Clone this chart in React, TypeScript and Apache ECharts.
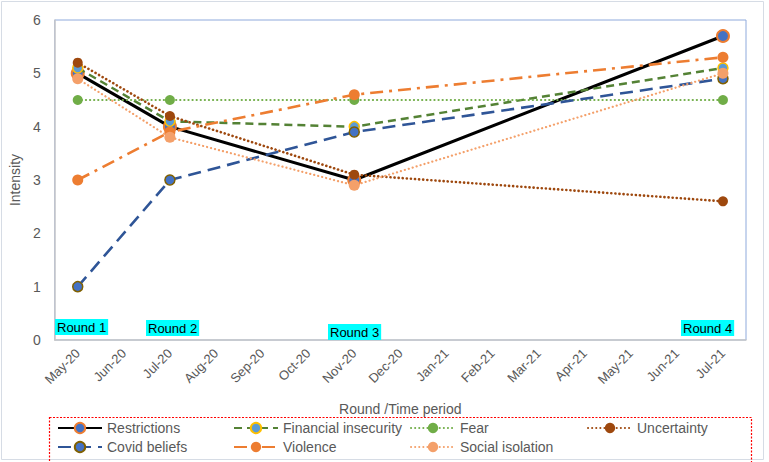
import React, { useEffect, useRef } from "react";
import * as echarts from "echarts";

const months = [
  "May-20", "Jun-20", "Jul-20", "Aug-20", "Sep-20", "Oct-20", "Nov-20", "Dec-20",
  "Jan-21", "Feb-21", "Mar-21", "Apr-21", "May-21", "Jun-21", "Jul-21",
];
const roundMonths = ["May-20", "Jul-20", "Nov-20", "Jul-21"];
const roundLabels = ["Round 1", "Round 2", "Round 3", "Round 4"];
const yTicks = [0, 1, 2, 3, 4, 5, 6];

const restrictions = [5.0, 4.0, 3.0, 5.7];
const financialInsecurity = [5.1, 4.1, 4.0, 5.1];
const fear = [4.5, 4.5, 4.5, 4.5];
const uncertainty = [5.2, 4.2, 3.1, 2.6];
const covidBeliefs = [1.0, 3.0, 3.9, 4.9];
const violence = [3.0, 3.9, 4.6, 5.3];
const socialIsolation = [4.9, 3.8, 2.9, 5.0];

const FONT = "'Liberation Sans', Arial, sans-serif";

function pairs(vals: number[]) {
  return vals.map((v, i) => [roundMonths[i], v]);
}

export default function App() {
  const ref = useRef<HTMLDivElement>(null);
  useEffect(() => {
    if (!ref.current) return;
    const chart = echarts.init(ref.current, null, { renderer: "svg" });

    const seriesDefs = [
      { name: "Restrictions", data: restrictions, line: { color: "#000000", width: 3, type: "solid" }, item: { color: "#4472C4", borderColor: "#ED7D31", borderWidth: 2 }, size: 12 },
      { name: "Financial insecurity", data: financialInsecurity, line: { color: "#548235", width: 2.5, type: [8, 5] }, item: { color: "#5B9BD5", borderColor: "#FFC000", borderWidth: 1.5 }, size: 10 },
      { name: "Fear", data: fear, line: { color: "#70AD47", width: 2.2, type: [0.1, 4], cap: "round" }, item: { color: "#70AD47" }, size: 10 },
      { name: "Uncertainty", data: uncertainty, line: { color: "#9E480E", width: 2.6, type: [0.1, 4], cap: "round" }, item: { color: "#9E480E" }, size: 10 },
      { name: "Covid beliefs", data: covidBeliefs, line: { color: "#2F5597", width: 2.6, type: [13, 7] }, item: { color: "#4472C4", borderColor: "#806000", borderWidth: 1.5 }, size: 10 },
      { name: "Violence", data: violence, line: { color: "#ED7D31", width: 2.6, type: [13, 6, 3, 6] }, item: { color: "#ED7D31" }, size: 11 },
      { name: "Social isolation", data: socialIsolation, line: { color: "#F4A06A", width: 2.2, type: [0.1, 4], cap: "round" }, item: { color: "#F4A06A" }, size: 11 },
    ];

    const legendPos: [string, number, number][] = [
      ["Restrictions", 57, 421],
      ["Financial insecurity", 233, 421],
      ["Fear", 410, 421],
      ["Uncertainty", 587, 421],
      ["Covid beliefs", 57, 440],
      ["Violence", 233, 440],
      ["Social isolation", 410, 440],
    ];

    const roundBoxes: [number, number][] = [
      [55, 319],
      [146, 320],
      [328, 324],
      [681, 320],
    ];

    chart.setOption({
      animation: false,
      backgroundColor: "#ffffff",
      textStyle: { fontFamily: FONT },
      grid: {
        left: 50,
        right: 23,
        top: 20,
        bottom: 122,
        show: true,
        borderColor: "#8FAADC",
        borderWidth: 1,
        containLabel: false,
      },
      xAxis: {
        type: "category",
        data: months,
        boundaryGap: true,
        name: "Round /Time period",
        nameLocation: "middle",
        nameGap: 62,
        nameTextStyle: { color: "#595959", fontSize: 14, fontFamily: FONT },
        axisLine: { show: true, lineStyle: { color: "#C8C8C8", width: 1.5 } },
        axisTick: { show: false },
        axisLabel: {
          interval: 0,
          rotate: 45,
          margin: 11,
          color: "#595959",
          fontSize: 13,
          fontFamily: FONT,
        },
        splitLine: { show: false },
      },
      yAxis: {
        type: "value",
        min: 0,
        max: 6,
        interval: 1,
        name: "Intensity",
        nameLocation: "middle",
        nameRotate: 90,
        nameGap: 31,
        nameTextStyle: { color: "#595959", fontSize: 14, fontFamily: FONT },
        axisLine: { show: true, lineStyle: { color: "#C8C8C8", width: 1.5 } },
        axisTick: { show: false },
        axisLabel: {
          margin: 14,
          color: "#595959",
          fontSize: 14,
          fontFamily: FONT,
          formatter: (v: number) => (yTicks.includes(v) ? String(v) : ""),
        },
        splitLine: { show: false },
      },
      legend: legendPos.map(([name, left, top]) => ({
        data: [name],
        left,
        top,
        padding: 0,
        itemWidth: 44,
        itemHeight: 13,
        itemGap: 5,
        textStyle: { color: "#595959", fontSize: 14, fontFamily: FONT },
        selectedMode: false,
      })),
      series: seriesDefs.map((s, idx) => ({
        name: s.name,
        type: "line",
        data: pairs(s.data),
        symbol: "circle",
        symbolSize: s.size,
        showSymbol: true,
        lineStyle: s.line,
        itemStyle: s.item,
        z: 2 + idx,
      })),
      graphic: [
        {
          type: "rect",
          silent: true,
          shape: { x: 1.5, y: 1.5, width: 762, height: 458 },
          style: { fill: "none", stroke: "#D6DCE5", lineWidth: 1 },
        },
        {
          type: "rect",
          silent: true,
          z: 50,
          shape: { x: 49.5, y: 417.5, width: 702, height: 60 },
          style: { fill: "none", stroke: "#FF0000", lineWidth: 1.2, lineDash: [2, 1.5] },
        },
        ...roundLabels.map((t, i) => ({
          type: "text",
          silent: true,
          x: roundBoxes[i][0],
          y: roundBoxes[i][1],
          z: 100,
          style: {
            text: t,
            font: `13px ${FONT}`,
            fill: "#000000",
            backgroundColor: "#00FFFF",
            padding: [2, 2, 1, 2],
          },
        })),
      ],
    });

    return () => chart.dispose();
  }, []);

  return (
    <div
      ref={ref}
      style={{ position: "fixed", left: 0, top: 0, width: 769, height: 462 }}
    />
  );
}
